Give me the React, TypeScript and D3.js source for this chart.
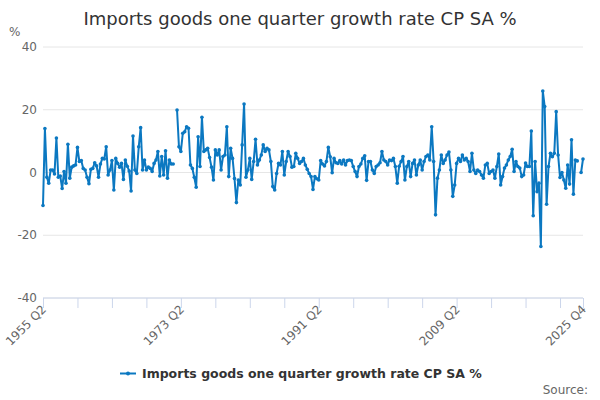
import * as d3 from 'd3';

// quarterly series, 1955 Q2 .. 2025 Q4 (null = no value)
const firstYear = 1955;
const firstQuarter = 2;

const growth1955to1965 = [
  -10.5, 14.0, -1.5, -3.4, 0.8, 0.8, -0.5, 11.0, -1.5, -1.1,
  -5.1, 0.3, -3.4, 9.0, -1.8, 1.7, 2.1, 2.4, 8.0, 3.5,
  3.8, 1.3, 0.8, -1.5, -3.6, 1.0, 1.3, 3.1, 2.1, -1.5,
  2.7, 4.5, 4.3, 8.2, -0.8, 0.8, 3.8, -5.6, 4.5, 2.9,
];
const growth1965to1975 = [
  1.7, 2.9, -2.2, 4.0, 2.0, 0.5, -5.9, 11.6, 0.8, -0.3,
  8.2, 14.3, 0.8, 4.0, 0.8, 1.7, 1.3, 0.3, 2.9, 4.0,
  6.7, -1.1, 5.1, -0.8, 6.9, -1.8, 4.0, 2.7, 2.7, null,
  19.9, 8.2, 6.7, 12.5, 13.0, 14.6, 14.1, 2.4, 1.3, -1.5,
];
const growth1975to1985 = [
  -4.7, 11.4, 1.9, 17.6, 6.7, 7.2, 7.7, 4.8, 1.7, -2.4,
  7.2, 5.6, 7.2, 0.8, 5.1, 5.6, 14.6, -1.3, 7.7, 4.5,
  -1.9, -9.6, -2.4, -4.0, 8.8, 21.8, -1.5, 0.8, 4.5, -2.2,
  3.5, 10.6, 2.4, 4.0, 5.6, 8.8, 6.7, 7.7, 7.2, 3.5,
];
const growth1985to1995 = [
  -4.5, -5.6, -0.3, 2.9, 2.4, 6.7, -0.8, 3.5, 6.7, 5.1,
  1.7, 1.9, 6.1, 4.5, 2.9, 3.5, 4.5, 2.4, 1.0, -0.3,
  -1.3, -5.4, -1.3, -2.0, -2.4, 3.8, 2.7, 2.1, 3.5, 8.0,
  5.0, -0.1, 4.5, 3.1, 2.9, 3.8, 2.7, 4.0, 2.4, 3.8,
];
const growth1995to2005 = [
  4.0, 3.8, 1.9, 0.3, -1.3, 1.9, 2.7, 4.5, 5.3, -2.5,
  3.5, 3.5, 0.8, -0.3, 1.9, 2.4, 3.1, 6.7, 4.0, 3.5,
  2.4, 4.0, 3.8, 4.5, 1.9, -3.4, 2.0, 3.5, 5.1, -2.4,
  1.9, 3.5, -1.3, 2.9, 4.0, -0.8, 2.4, 4.0, 0.8, 3.5,
];
const growth2005to2015 = [
  5.1, 5.6, 4.0, 14.6, 3.5, -13.5, -1.8, 0.8, 5.6, 2.9,
  4.0, 5.6, 6.5, 0.8, -7.6, -4.0, 2.9, 4.5, 3.5, 5.6,
  4.0, 4.5, 3.5, 0.3, 6.1, 0.8, -0.3, 0.8, 0.3, -0.8,
  -1.8, 2.4, 2.9, -0.3, 0.3, 0.8, -1.8, 1.9, 5.9, -4.0,
];
const growth2015to2025 = [
  -1.3, 1.4, 2.4, 4.0, 5.1, 7.4, 0.3, 3.5, 1.9, 1.4,
  -1.3, -0.8, 3.0, 1.9, 1.9, 13.2, -13.8, 3.5, -6.1, -3.4,
  -23.6, 26.0, 21.0, -10.1, 1.9, 6.1, 5.0, 6.1, 19.4, 5.6,
  -1.6, 0, -2.4, -5.0, 2.4, -3.7, 10.4, -6.9, 4.0, 3.7,
  null, 0, 4.3,
];

const values: (number | null)[] = [
  ...growth1955to1965, ...growth1965to1975, ...growth1975to1985,
  ...growth1985to1995, ...growth1995to2005, ...growth2005to2015,
  ...growth2015to2025,
];

const categories = values.map((_, i) => {
  const q = firstQuarter - 1 + i;
  return `${firstYear + Math.floor(q / 4)} Q${(q % 4) + 1}`;
});

const yTicks = [-40, -20, 0, 20, 40];
const xLabels = ['1955 Q2', '1973 Q2', '1991 Q2', '2009 Q2', '2025 Q4'];
const tickStep = 18;

const title = 'Imports goods one quarter growth rate CP SA %';
const seriesName = 'Imports goods one quarter growth rate CP SA %';

const width = 600;
const height = 400;
const margin = { top: 47, right: 17, bottom: 102, left: 43 };
const blue = '#0b78c1';
const font = '"DejaVu Sans", sans-serif';

export default function App() {
  const x = d3.scaleLinear()
    .domain([0, categories.length - 1])
    .range([margin.left, width - margin.right]);
  const y = d3.scaleLinear()
    .domain([-40, 40])
    .range([height - margin.bottom, margin.top]);

  const line = d3.line<number | null>()
    .defined(d => d !== null)
    .x((_, i) => x(i))
    .y(d => y(d as number));

  const tickIdx = d3.range(0, categories.length, tickStep);
  if (tickIdx[tickIdx.length - 1] !== categories.length - 1) tickIdx.push(categories.length - 1);

  const y0 = y(-40);

  return (
    <svg width={width} height={height} style={{ position: 'absolute', left: 0, top: 0, fontFamily: font }}>
      <rect width={width} height={height} fill="#fff" />
      <text x={300} y={25} textAnchor="middle" fontSize={18} fill="#333">{title}</text>

      {yTicks.map(t => (
        <g key={t}>
          <line x1={x(0)} x2={x(categories.length - 1)} y1={y(t)} y2={y(t)} stroke="#e6e6e6" />
          <text x={37} y={y(t) + 4} textAnchor="end" fontSize={12} fill="#666">{t}</text>
        </g>
      ))}
      <text x={9} y={36} fontSize={12} fill="#666">%</text>

      <line x1={x(0)} x2={x(categories.length - 1)} y1={y0} y2={y0} stroke="#ccd6eb" />
      {tickIdx.map(i => (
        <line key={i} x1={x(i) + 0.5} x2={x(i) + 0.5} y1={y0} y2={y0 + 10} stroke="#ccd6eb" />
      ))}
      {xLabels.map(lbl => {
        const i = categories.indexOf(lbl);
        return (
          <text key={lbl} transform={`translate(${x(i) + 4},${y0 + 12}) rotate(-45)`}
            textAnchor="end" fontSize={12} fill="#666">{lbl}</text>
        );
      })}

      <path d={line(values) ?? ''} fill="none" stroke={blue} strokeWidth={2} strokeLinejoin="round" />
      {values.map((v, i) => v === null ? null : (
        <circle key={i} cx={x(i)} cy={y(v)} r={1.8} fill={blue} />
      ))}

      <g>
        <line x1={120} x2={136} y1={373.5} y2={373.5} stroke={blue} strokeWidth={2} />
        <circle cx={128} cy={373.5} r={2} fill={blue} />
        <text x={142} y={378} fontSize={12.5} fontWeight="bold" fill="#333">{seriesName}</text>
      </g>
      <text x={588} y={394} textAnchor="end" fontSize={12} fill="#666">Source:</text>
    </svg>
  );
}
